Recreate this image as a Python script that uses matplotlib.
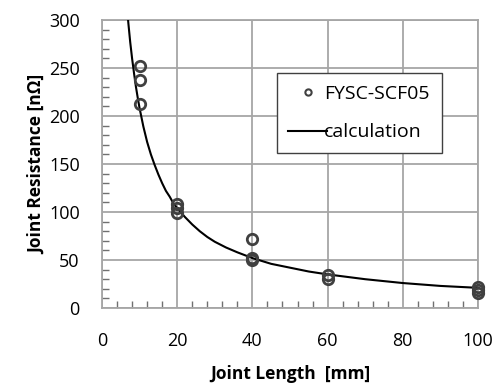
import matplotlib
matplotlib.use("Agg")
import matplotlib.pyplot as plt
from matplotlib.ticker import MultipleLocator

plt.rcParams['font.family'] = ['Open Sans', 'DejaVu Sans']

# Measured joint resistance for each joint length
meas_length = [10, 10, 10, 20, 20, 20, 40, 40, 40, 60, 60, 100, 100, 100]
meas_resist = [252, 237, 212, 108, 104, 99, 72, 52, 50, 34, 30, 22, 19, 16]

# Calculated resistance curve
calc_length = [6.5, 7, 7.5, 8, 8.5, 9, 9.5, 10, 11, 12, 13, 14, 15, 16, 17, 18, 19, 20,
               22, 24, 26, 28, 30, 33, 36, 40, 45, 50, 55, 60, 70, 80, 90, 100]
calc_resist = [320, 297, 277, 260, 245, 231, 219, 208, 189, 173, 160, 149, 139, 130, 122, 116, 109, 104,
               95, 87, 80, 74, 69, 63, 58, 52, 46, 42, 38, 35, 30, 26, 23, 21]

x_ticks = [0, 20, 40, 60, 80, 100]
y_ticks = [0, 50, 100, 150, 200, 250, 300]

fig = plt.figure(figsize=(5.04, 3.85), dpi=100)
ax = fig.add_axes([0.2024, 0.2, 0.746, 0.748])

grid_c = '#a6a6a6'
ax.grid(True, which='major', color=grid_c, linewidth=1.3)
ax.set_axisbelow(True)

ax.plot(calc_length, calc_resist, color='black', linewidth=1.5, label='calculation', zorder=3)
ax.plot(meas_length, meas_resist, linestyle='none', marker='o', markersize=7.5,
        markerfacecolor='none', markeredgecolor='#404040', markeredgewidth=2,
        label='FYSC-SCF05', zorder=4, clip_on=False)

ax.set_xlim(0, 100)
ax.set_ylim(0, 300)
ax.set_xticks(x_ticks)
ax.set_yticks(y_ticks)
ax.xaxis.set_minor_locator(MultipleLocator(4))
ax.yaxis.set_minor_locator(MultipleLocator(10))
ax.tick_params(which='major', length=0, labelsize=13, colors='black')
ax.tick_params(axis='y', which='major', pad=16)
ax.tick_params(axis='x', which='major', pad=17)
ax.tick_params(which='minor', direction='in', length=5, color='#707070', width=1)

for s in ax.spines.values():
    s.set_color(grid_c)
    s.set_linewidth(1.3)

ax.set_xlabel('Joint Length  [mm]', fontsize=12.5, fontweight='bold', labelpad=11)
ax.set_ylabel('Joint Resistance [n\u03a9]', fontsize=12.5, fontweight='bold', labelpad=2)

handles, labels = ax.get_legend_handles_labels()
leg = ax.legend(handles[::-1], labels[::-1], loc='upper left',
                bbox_to_anchor=(276.7 / 504, 1 - 73.3 / 385), bbox_transform=fig.transFigure,
                fontsize=14, frameon=True, fancybox=False, edgecolor='#404040', framealpha=1,
                handlelength=2.0, handletextpad=-0.15, labelspacing=1.05,
                borderpad=0.6, borderaxespad=0, markerscale=0.6)
leg.get_frame().set_linewidth(1.0)
leg.legend_handles[0].set_markeredgewidth(1.5)

fig.savefig('out.png', dpi=100)
